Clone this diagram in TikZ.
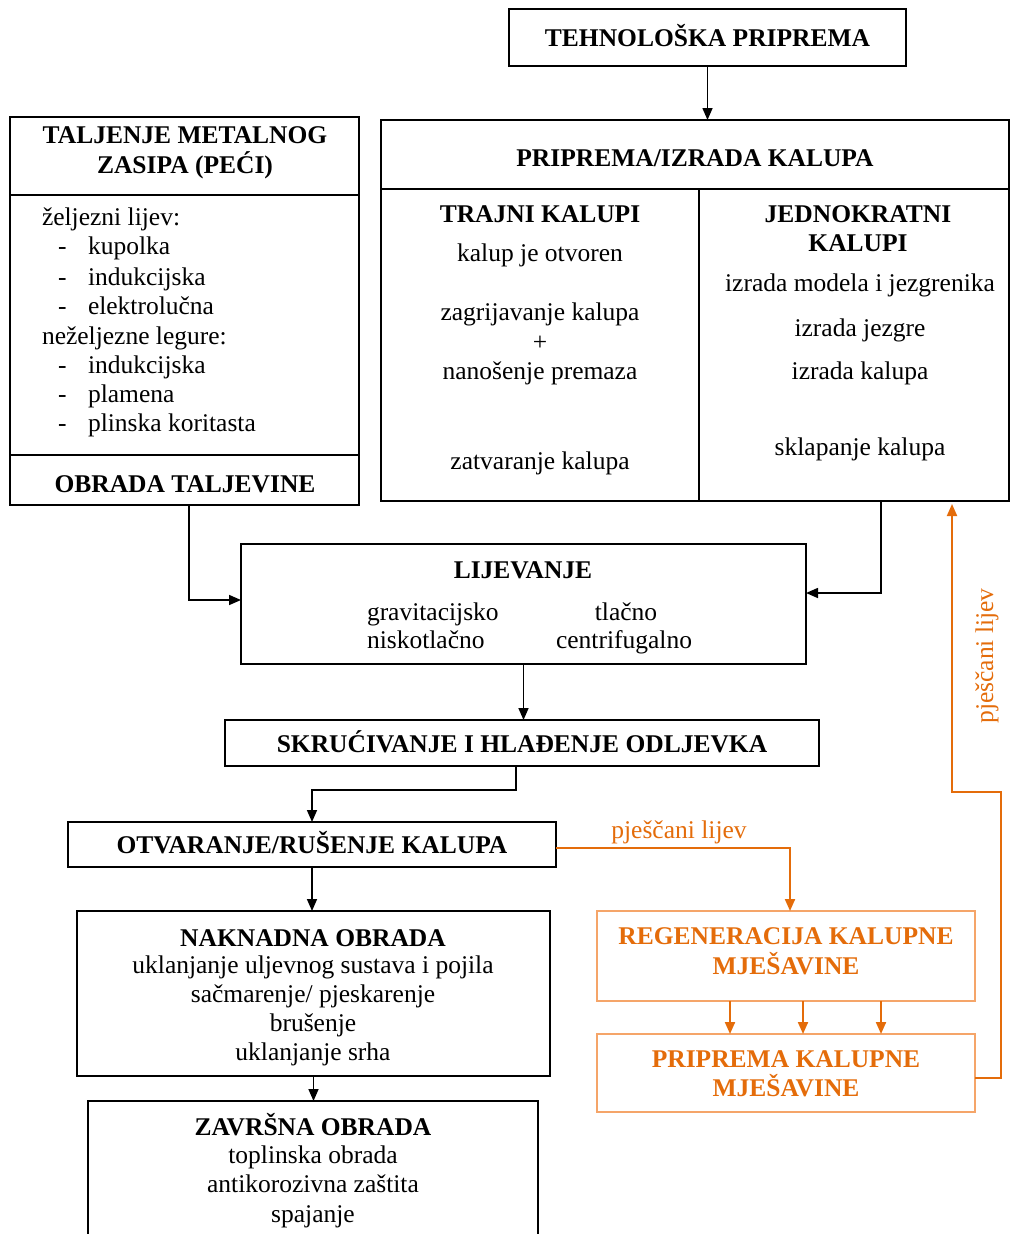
\documentclass[tikz,border=0pt]{standalone}
\usepackage{fontspec}
\setmainfont{Liberation Serif}
\usetikzlibrary{arrows.meta}
\definecolor{oline}{RGB}{228,108,10}
\definecolor{obox}{RGB}{245,165,105}
\newcommand\myfs{\fontsize{25.5}{29.5}\selectfont}
\begin{document}
\begin{tikzpicture}[x=1pt,y=-1pt,
  box/.style={draw=black, line width=1.6pt, inner sep=0pt, outer sep=0pt, text height=21pt, text depth=3pt, font=\myfs\bfseries},
  obx/.style={draw=obox, line width=1.8pt, inner sep=0pt, outer sep=0pt},
  ln/.style={inner sep=0pt, outer sep=0pt, text height=20pt, text depth=4pt, font=\myfs},
  hd/.style={ln, font=\myfs\bfseries},
  ohd/.style={hd, text=oline},
  bl/.style={line width=1.6pt},
  arr/.style={line width=1.6pt, -{Triangle[length=12pt,width=10pt]}},
  oarr/.style={draw=oline, line width=2pt, -{Triangle[length=12pt,width=10pt]}, color=oline}]
\useasboundingbox (0,0) rectangle (1011,1234);

% ---- TEHNOLOSKA PRIPREMA
\node[box, minimum width=397pt, minimum height=57pt] (tp) at (707.5,37.5) {TEHNOLOŠKA PRIPREMA};

% ---- TALJENJE
\node[box, minimum width=349pt, minimum height=388pt] (tal) at (184.5,311) {};
\draw[bl] ([yshift=-78pt]tal.north west) -- ([yshift=-78pt]tal.north east);
\draw[bl] ([yshift=-338pt]tal.north west) -- ([yshift=-338pt]tal.north east);
\node[hd] (tal1) at (185,135) {TALJENJE METALNOG};
\node[hd] (tal2) at (185,165) {ZASIPA (PEĆI)};
\node[ln, anchor=west] (zl) at (42,217) {željezni lijev:};
\node[ln, anchor=west] (nl) at (42,336) {neželjezne legure:};
\foreach \y/\t in {246/kupolka, 277/indukcijska, 306/elektrolučna, 365/indukcijska, 394/plamena, 423/plinska koritasta} {
  \node[ln, anchor=west] (d\y) at (58,\y) {-};
  \node[ln, anchor=west] (i\y) at (88,\y) {\t};
}
\node[hd] (ob) at (185,484) {OBRADA TALJEVINE};

% ---- PRIPREMA/IZRADA KALUPA
\node[box, minimum width=628pt, minimum height=381pt] (pik) at (695,310.5) {};
\draw[bl] ([yshift=-69pt]pik.north west) -- ([yshift=-69pt]pik.north east);
\draw[bl] ([xshift=318pt,yshift=-69pt]pik.north west) -- ([xshift=318pt]pik.south west);
\node[hd] (pikt) at (695,158) {PRIPREMA/IZRADA KALUPA};
\node[hd] (tk) at (540,214) {TRAJNI KALUPI};
\node[ln] (t1) at (540,253) {kalup je otvoren};
\node[ln] (t2) at (540,312) {zagrijavanje kalupa};
\node[ln] (t3) at (540,342) {+};
\node[ln] (t4) at (540,371) {nanošenje premaza};
\node[ln] (t5) at (540,461) {zatvaranje kalupa};
\node[hd] (jk1) at (858,214) {JEDNOKRATNI};
\node[hd] (jk2) at (858,243) {KALUPI};
\node[ln] (j1) at (860,283) {izrada modela i jezgrenika};
\node[ln] (j2) at (860,328) {izrada jezgre};
\node[ln] (j3) at (860,371) {izrada kalupa};
\node[ln] (j4) at (860,447) {sklapanje kalupa};

% ---- LIJEVANJE
\node[box, minimum width=565pt, minimum height=120pt] (lij) at (523.5,604) {};
\node[hd] (lijt) at (523,570) {LIJEVANJE};
\node[ln, anchor=west] (g1) at (367,612) {gravitacijsko};
\node[ln, anchor=west] (g2) at (367,640) {niskotlačno};
\node[ln] (g3) at (626,612) {tlačno};
\node[ln] (g4) at (624,640) {centrifugalno};

% ---- SKRUCIVANJE
\node[box, minimum width=594pt, minimum height=46pt] (skr) at (522,743) {SKRUĆIVANJE I HLAĐENJE ODLJEVKA};

% ---- OTVARANJE
\node[box, minimum width=488pt, minimum height=45pt] (otv) at (312,844.5) {OTVARANJE/RUŠENJE KALUPA};

% ---- NAKNADNA OBRADA
\node[box, minimum width=473pt, minimum height=165pt] (nak) at (313.5,993.5) {};
\node[hd] (n0) at (313,938) {NAKNADNA OBRADA};
\node[ln] (n1) at (313,965) {uklanjanje uljevnog sustava i pojila};
\node[ln] (n2) at (313,994) {sačmarenje/ pjeskarenje};
\node[ln] (n3) at (313,1023) {brušenje};
\node[ln] (n4) at (313,1052) {uklanjanje srha};

% ---- ZAVRSNA OBRADA (box open at the bottom edge)
\draw[bl] (88,1240) -- (88,1101) -- (538,1101) -- (538,1240);
\coordinate (zavtop) at (313,1101);
\node[hd] (z0) at (313,1127) {ZAVRŠNA OBRADA};
\node[ln] (z1) at (313,1155) {toplinska obrada};
\node[ln] (z2) at (313,1184) {antikorozivna zaštita};
\node[ln] (z3) at (313,1214) {spajanje};

% ---- orange boxes
\node[obx, minimum width=378pt, minimum height=90pt] (reg) at (786,956) {};
\node[ohd] (r1) at (786,936) {REGENERACIJA KALUPNE};
\node[ohd] (r2) at (786,966) {MJEŠAVINE};
\node[obx, minimum width=378pt, minimum height=78pt] (pkm) at (786,1073) {};
\node[ohd] (p1) at (786,1059) {PRIPREMA KALUPNE};
\node[ohd] (p2) at (786,1088) {MJEŠAVINE};

% ---- black connectors
\draw[arr] (tp.south) -- (tp.south |- pik.north);
\draw[arr] ([xshift=4.5pt]tal.south) |- ([yshift=4pt]lij.west);
\draw[arr] ([xshift=186pt]pik.south) |- ([yshift=11pt]lij.east);
\draw[arr] (lij.south) -- (lij.south |- skr.north);
\draw[arr] ([xshift=-6pt]skr.south) -- ++(0,24) -| (otv.north);
\draw[arr] (otv.south) -- (otv.south |- nak.north);
\draw[arr] (nak.south) -- (nak.south |- zavtop);

% ---- orange connectors
\draw[oarr] ([yshift=-3pt]otv.east) -| ([xshift=4pt]reg.north);
\node[ln, text=oline] (lab1) at (679,830) {pješčani lijev};
\foreach \dx in {-56,17,95} {
  \draw[oarr] ([xshift=\dx pt]reg.south) -- ([xshift=\dx pt]pkm.north);
}
\draw[oarr] ([yshift=-5pt]pkm.east) -- ++(26,0) -- ++(0,-286) -| ([xshift=257pt,yshift=-3pt]pik.south);
\node[ln, text=oline, rotate=90] (lab2) at (985,656) {pješčani lijev};
\end{tikzpicture}
\end{document}
